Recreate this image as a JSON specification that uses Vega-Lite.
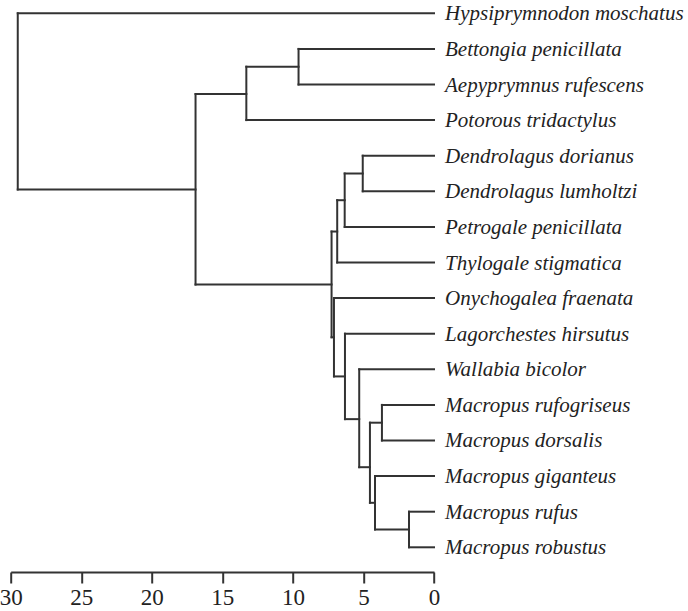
{
  "$schema": "https://vega.github.io/schema/vega-lite/v6.json",
  "width": 423.3,
  "height": 572,
  "autosize": {"type": "none"},
  "padding": {"left": 10.7, "top": 0, "right": 254, "bottom": 39},
  "background": "white",
  "config": {"view": {"stroke": null}},
  "datasets": {
    "segments": [
      {"x": 29.5, "x2": 29.5, "y": 0, "y2": 4.95},
      {"x": 29.5, "x2": 0, "y": 0, "y2": 0},
      {"x": 29.5, "x2": 16.9, "y": 4.95, "y2": 4.95},
      {"x": 16.9, "x2": 16.9, "y": 2.27, "y2": 7.62},
      {"x": 16.9, "x2": 13.3, "y": 2.27, "y2": 2.27},
      {"x": 13.3, "x2": 13.3, "y": 1.5, "y2": 3},
      {"x": 13.3, "x2": 9.6, "y": 1.5, "y2": 1.5},
      {"x": 13.3, "x2": 0, "y": 3, "y2": 3},
      {"x": 9.6, "x2": 9.6, "y": 1, "y2": 2},
      {"x": 9.6, "x2": 0, "y": 1, "y2": 1},
      {"x": 9.6, "x2": 0, "y": 2, "y2": 2},
      {"x": 16.9, "x2": 7.26, "y": 7.62, "y2": 7.62},
      {"x": 7.26, "x2": 7.26, "y": 6.13, "y2": 9.1},
      {"x": 7.26, "x2": 6.86, "y": 6.13, "y2": 6.13},
      {"x": 6.86, "x2": 6.86, "y": 5.25, "y2": 7},
      {"x": 6.86, "x2": 0, "y": 7, "y2": 7},
      {"x": 6.86, "x2": 6.33, "y": 5.25, "y2": 5.25},
      {"x": 6.33, "x2": 6.33, "y": 4.5, "y2": 6},
      {"x": 6.33, "x2": 0, "y": 6, "y2": 6},
      {"x": 6.33, "x2": 5.05, "y": 4.5, "y2": 4.5},
      {"x": 5.05, "x2": 5.05, "y": 4, "y2": 5},
      {"x": 5.05, "x2": 0, "y": 4, "y2": 4},
      {"x": 5.05, "x2": 0, "y": 5, "y2": 5},
      {"x": 7.26, "x2": 7.09, "y": 9.1, "y2": 9.1},
      {"x": 7.09, "x2": 7.09, "y": 8, "y2": 10.2},
      {"x": 7.09, "x2": 0, "y": 8, "y2": 8},
      {"x": 7.09, "x2": 6.31, "y": 10.2, "y2": 10.2},
      {"x": 6.31, "x2": 6.31, "y": 9, "y2": 11.4},
      {"x": 6.31, "x2": 0, "y": 9, "y2": 9},
      {"x": 6.31, "x2": 5.3, "y": 11.4, "y2": 11.4},
      {"x": 5.3, "x2": 5.3, "y": 10, "y2": 12.75},
      {"x": 5.3, "x2": 0, "y": 10, "y2": 10},
      {"x": 5.3, "x2": 4.54, "y": 12.75, "y2": 12.75},
      {"x": 4.54, "x2": 4.54, "y": 11.5, "y2": 13.75},
      {"x": 4.54, "x2": 3.69, "y": 11.5, "y2": 11.5},
      {"x": 3.69, "x2": 3.69, "y": 11, "y2": 12},
      {"x": 3.69, "x2": 0, "y": 11, "y2": 11},
      {"x": 3.69, "x2": 0, "y": 12, "y2": 12},
      {"x": 4.54, "x2": 4.18, "y": 13.75, "y2": 13.75},
      {"x": 4.18, "x2": 4.18, "y": 13, "y2": 14.5},
      {"x": 4.18, "x2": 0, "y": 13, "y2": 13},
      {"x": 4.18, "x2": 1.77, "y": 14.5, "y2": 14.5},
      {"x": 1.77, "x2": 1.77, "y": 14, "y2": 15},
      {"x": 1.77, "x2": 0, "y": 14, "y2": 14},
      {"x": 1.77, "x2": 0, "y": 15, "y2": 15}
    ],
    "leaves": [
      {"name": "Hypsiprymnodon moschatus", "pos": 0},
      {"name": "Bettongia penicillata", "pos": 1},
      {"name": "Aepyprymnus rufescens", "pos": 2},
      {"name": "Potorous tridactylus", "pos": 3},
      {"name": "Dendrolagus dorianus", "pos": 4},
      {"name": "Dendrolagus lumholtzi", "pos": 5},
      {"name": "Petrogale penicillata", "pos": 6},
      {"name": "Thylogale stigmatica", "pos": 7},
      {"name": "Onychogalea fraenata", "pos": 8},
      {"name": "Lagorchestes hirsutus", "pos": 9},
      {"name": "Wallabia bicolor", "pos": 10},
      {"name": "Macropus rufogriseus", "pos": 11},
      {"name": "Macropus dorsalis", "pos": 12},
      {"name": "Macropus giganteus", "pos": 13},
      {"name": "Macropus rufus", "pos": 14},
      {"name": "Macropus robustus", "pos": 15}
    ]
  },
  "layer": [
    {
      "data": {"name": "segments"},
      "mark": {"type": "rule", "color": "#333333", "strokeWidth": 2, "strokeCap": "square"},
      "encoding": {
        "x": {
          "field": "x", "type": "quantitative",
          "scale": {"domain": [30, 0], "nice": false, "zero": false},
          "axis": {
            "title": null, "values": [30, 25, 20, 15, 10, 5, 0], "grid": false,
            "domainColor": "#333333", "domainWidth": 2, "tickColor": "#333333", "tickWidth": 2,
            "tickSize": 11, "labelFont": "Liberation Serif", "labelFontSize": 23,
            "labelColor": "#222222", "labelPadding": 3, "labelFlush": false
          }
        },
        "x2": {"field": "x2"},
        "y": {
          "field": "y", "type": "quantitative",
          "scale": {"domain": [-0.374, 15.694], "nice": false, "zero": false, "reverse": true},
          "axis": null
        },
        "y2": {"field": "y2"}
      }
    },
    {
      "data": {"name": "leaves"},
      "mark": {"type": "text", "align": "left", "baseline": "middle", "dx": 11, "dy": 1,
               "font": "Liberation Serif", "fontStyle": "italic", "fontSize": 21, "color": "#222222"},
      "encoding": {
        "x": {"datum": 0, "type": "quantitative"},
        "y": {"field": "pos", "type": "quantitative"},
        "text": {"field": "name"}
      }
    }
  ]
}
